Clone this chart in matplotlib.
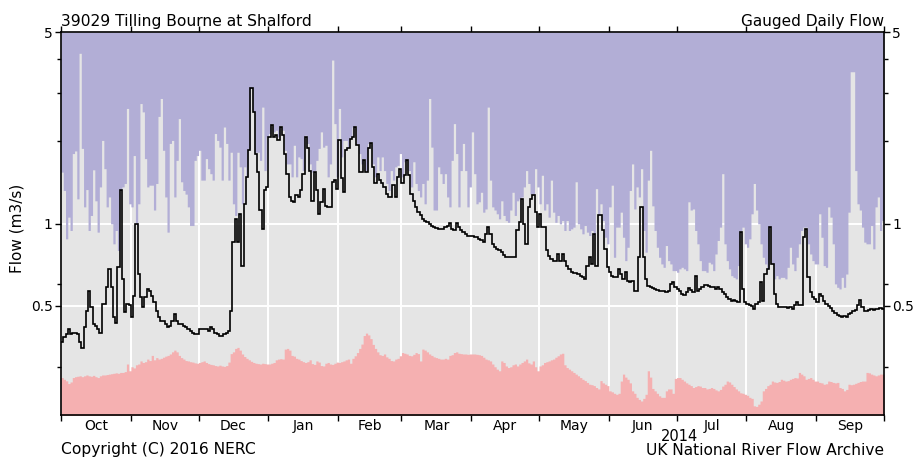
# Tilling Bourne at Shalford - gauged daily flow, water year 2013/14

import numpy as np
import pandas as pd
import matplotlib
matplotlib.use("Agg")
import matplotlib.pyplot as plt
import matplotlib.dates as mdates
from matplotlib.ticker import FixedLocator, FixedFormatter, NullFormatter

# daily flow (m3/s), 1 Oct 2013 - 30 Sep 2014
flow = [
    # Oct
    0.368, 0.384, 0.395, 0.412, 0.395, 0.397, 0.397, 0.395, 0.368, 0.351,
    0.418, 0.481, 0.569, 0.494, 0.430, 0.424, 0.412, 0.400, 0.509, 0.509,
    0.585, 0.683, 0.585, 0.455, 0.435, 0.692, 1.32, 0.628, 0.474, 0.509, 0.502,
    # Nov
    0.455, 0.545, 0.997, 0.654, 0.537, 0.494, 0.537, 0.577, 0.569, 0.545,
    0.516, 0.481, 0.455, 0.442, 0.442, 0.430, 0.418, 0.424, 0.442, 0.468,
    0.442, 0.430, 0.430, 0.424, 0.418, 0.412, 0.406, 0.400, 0.395, 0.395,
    # Dec
    0.412, 0.412, 0.412, 0.412, 0.406, 0.418, 0.412, 0.400, 0.395, 0.389,
    0.389, 0.395, 0.400, 0.406, 0.481, 0.855, 1.04, 0.855, 1.085, 0.702,
    1.18, 1.48, 1.85, 3.11, 2.555, 1.80, 1.54, 1.12, 0.956, 1.32, 1.36,
    # Jan
    2.07, 2.28, 2.07, 2.10, 2.01, 2.25, 2.10, 1.80, 1.52, 1.25,
    1.21, 1.20, 1.27, 1.25, 1.32, 1.52, 2.07, 1.88, 1.56, 1.21,
    1.54, 1.32, 1.085, 1.20, 1.34, 1.16, 1.15, 1.15, 1.42, 1.44, 1.34,
    # Feb
    2.01, 1.46, 1.30, 1.85, 1.88, 2.04, 2.07, 2.25, 1.93, 1.54,
    1.54, 1.70, 1.54, 1.88, 1.96, 1.61, 1.40, 1.52, 1.44, 1.40,
    1.36, 1.28, 1.25, 1.25, 1.38, 1.25, 1.48, 1.585,
    # Mar
    1.40, 1.50, 1.70, 1.50, 1.28, 1.21, 1.15, 1.10, 1.07, 1.04,
    1.025, 1.01, 0.997, 0.983, 0.970, 0.964, 0.951, 0.951, 0.956, 0.970,
    0.983, 1.003, 0.956, 0.943, 1.003, 0.970, 0.943, 0.930, 0.917, 0.904, 0.904,
    # Apr
    0.899, 0.896, 0.891, 0.879, 0.867, 0.855, 0.917, 0.970, 0.917, 0.843,
    0.819, 0.808, 0.797, 0.786, 0.770, 0.757, 0.753, 0.753, 0.753, 0.753,
    0.943, 1.01, 1.23, 0.997, 0.843, 1.15, 1.23, 1.27, 1.10, 0.970,
    # May
    1.085, 0.970, 0.970, 0.797, 0.764, 0.743, 0.732, 0.732, 0.774, 0.732,
    0.774, 0.732, 0.702, 0.683, 0.664, 0.658, 0.658, 0.654, 0.645, 0.636,
    0.628, 0.702, 0.753, 0.712, 0.917, 0.702, 1.07, 1.07, 0.943, 0.808, 0.692,
    # Jun
    0.664, 0.645, 0.640, 0.640, 0.683, 0.654, 0.628, 0.664, 0.619, 0.610,
    0.619, 0.569, 0.569, 0.753, 1.15, 0.753, 0.628, 0.593, 0.585, 0.581,
    0.577, 0.572, 0.569, 0.569, 0.566, 0.561, 0.569, 0.602, 0.610, 0.588,
    # Jul
    0.577, 0.569, 0.553, 0.550, 0.561, 0.581, 0.572, 0.561, 0.645, 0.569,
    0.577, 0.588, 0.596, 0.598, 0.593, 0.585, 0.585, 0.577, 0.585, 0.577,
    0.561, 0.553, 0.537, 0.530, 0.523, 0.526, 0.520, 0.516, 0.930, 0.577, 0.516,
    # Aug
    0.509, 0.506, 0.500, 0.488, 0.509, 0.516, 0.610, 0.523, 0.654, 0.683,
    0.970, 0.712, 0.553, 0.509, 0.494, 0.497, 0.494, 0.497, 0.492, 0.494,
    0.488, 0.502, 0.516, 0.502, 0.502, 0.891, 0.956, 0.636, 0.561, 0.537, 0.530,
    # Sep
    0.516, 0.553, 0.545, 0.523, 0.509, 0.499, 0.490, 0.481, 0.470, 0.465,
    0.461, 0.455, 0.461, 0.457, 0.468, 0.470, 0.478, 0.484, 0.502, 0.526,
    0.494, 0.478, 0.481, 0.484, 0.488, 0.484, 0.488, 0.486, 0.492, 0.489,
]

# maximum daily flow on record for each day
max_flow = [
    # Oct
    1.54, 1.32, 0.879, 1.055, 0.943, 1.80, 1.84, 1.23, 4.18, 1.88,
    1.15, 1.33, 0.943, 1.07, 1.57, 1.21, 0.930, 1.36, 2.01, 1.585,
    1.15, 1.25, 0.997, 0.843, 0.943, 0.797, 1.32, 1.36, 1.40, 2.63, 1.18,
    # Nov
    1.15, 1.77, 1.00, 1.18, 2.74, 2.555, 1.725, 1.36, 1.38, 1.38,
    1.12, 1.40, 2.46, 2.86, 1.85, 1.25, 0.930, 1.96, 2.01, 1.25,
    1.70, 2.415, 1.42, 1.32, 1.28, 1.15, 0.983, 0.983, 1.70, 1.77,
    # Dec
    1.85, 1.44, 1.44, 1.725, 1.585, 1.52, 1.44, 2.13, 2.01, 1.90,
    1.44, 2.25, 1.96, 1.44, 1.82, 1.18, 1.07, 1.82, 1.61, 1.18,
    1.61, 1.48, 1.88, 3.11, 2.555, 1.82, 1.82, 1.70, 2.66, 1.56, 2.07,
    # Jan
    2.13, 2.315, 2.16, 2.19, 2.07, 2.28, 2.19, 1.85, 1.65, 1.65,
    1.48, 1.93, 1.48, 1.75, 1.725, 1.56, 2.10, 1.96, 1.65, 1.54,
    1.56, 1.70, 1.88, 2.16, 1.90, 1.93, 1.48, 1.65, 3.95, 2.315, 1.48,
    # Feb
    2.63, 1.75, 2.01, 2.01, 1.90, 2.07, 2.25, 2.28, 1.96, 1.80,
    1.65, 1.725, 1.56, 1.96, 1.985, 1.65, 1.48, 1.75, 1.56, 1.75,
    1.56, 1.40, 1.32, 1.56, 1.44, 1.61, 1.63, 1.80,
    # Mar
    1.48, 1.68, 1.725, 1.56, 1.36, 1.68, 1.40, 1.32, 1.25, 1.40,
    1.18, 1.44, 2.86, 1.90, 1.12, 1.12, 1.61, 1.52, 1.40, 1.52,
    1.25, 1.15, 1.70, 2.315, 1.80, 1.15, 1.56, 1.96, 1.56, 1.15, 1.36,
    # Apr
    2.16, 1.52, 1.18, 1.20, 1.30, 1.10, 1.13, 2.66, 1.44, 1.15,
    1.12, 1.085, 1.04, 1.21, 1.07, 1.025, 1.01, 1.12, 1.30, 1.07,
    1.21, 1.23, 1.25, 1.36, 1.56, 1.40, 1.28, 1.28, 1.585, 1.36,
    # May
    1.18, 1.50, 1.12, 1.18, 1.055, 1.44, 1.10, 1.01, 1.07, 0.997,
    1.025, 0.943, 1.025, 0.943, 0.956, 0.970, 1.42, 0.997, 0.956, 0.917,
    0.983, 0.930, 0.904, 0.943, 0.917, 1.34, 1.07, 1.18, 1.025, 0.891, 0.843,
    # Jun
    1.15, 1.38, 0.753, 0.970, 0.970, 1.10, 0.891, 0.732, 0.819, 1.32,
    1.65, 1.13, 1.36, 1.25, 1.585, 0.943, 0.786, 1.44, 1.85, 1.16,
    0.943, 0.819, 0.753, 0.712, 0.692, 0.831, 0.732, 0.712, 0.673, 0.673,
    # Jul
    0.664, 0.683, 0.692, 0.683, 0.673, 1.20, 1.12, 1.13, 0.943, 0.843,
    0.732, 0.673, 0.673, 0.664, 0.722, 0.712, 0.673, 0.774, 0.867, 0.970,
    1.52, 0.843, 0.732, 0.683, 0.645, 0.636, 0.628, 0.702, 0.943, 0.970, 0.843,
    # Aug
    0.819, 0.879, 1.085, 1.40, 1.12, 0.997, 0.843, 0.753, 0.712, 0.683,
    0.970, 0.712, 0.628, 0.645, 0.628, 0.636, 0.636, 0.628, 0.692, 0.819,
    0.712, 0.673, 0.753, 0.843, 0.943, 0.970, 0.970, 0.843, 0.774, 0.732, 0.712,
    # Sep
    0.712, 1.085, 0.891, 0.702, 0.692, 1.15, 1.055, 0.843, 0.602, 0.585,
    0.577, 0.636, 0.585, 0.654, 1.10, 3.58, 3.58, 1.56, 1.18, 1.12,
    0.970, 0.855, 0.843, 0.843, 0.983, 0.808, 1.15, 1.25, 0.943, 1.025,
]

# minimum daily flow on record for each day
min_flow = [
    # Oct
    0.274, 0.270, 0.2665, 0.2605, 0.264, 0.274, 0.276, 0.277, 0.278, 0.276,
    0.278, 0.280, 0.278, 0.277, 0.279, 0.276, 0.274, 0.278, 0.280, 0.280,
    0.281, 0.282, 0.283, 0.284, 0.285, 0.284, 0.286, 0.286, 0.288, 0.307, 0.290,
    # Nov
    0.300, 0.297, 0.305, 0.307, 0.315, 0.311, 0.313, 0.320, 0.316, 0.330,
    0.318, 0.324, 0.320, 0.322, 0.325, 0.328, 0.330, 0.334, 0.340, 0.345,
    0.340, 0.330, 0.324, 0.320, 0.316, 0.315, 0.313, 0.312, 0.310, 0.309,
    # Dec
    0.311, 0.313, 0.315, 0.311, 0.308, 0.306, 0.305, 0.303, 0.302, 0.304,
    0.302, 0.301, 0.303, 0.312, 0.335, 0.340, 0.350, 0.353, 0.345, 0.334,
    0.327, 0.322, 0.318, 0.314, 0.311, 0.309, 0.308, 0.307, 0.309, 0.308, 0.307,
    # Jan
    0.307, 0.309, 0.311, 0.318, 0.320, 0.321, 0.320, 0.348, 0.350, 0.345,
    0.330, 0.328, 0.322, 0.320, 0.316, 0.313, 0.311, 0.313, 0.318, 0.308,
    0.306, 0.315, 0.312, 0.303, 0.302, 0.309, 0.311, 0.307, 0.306, 0.309, 0.312,
    # Feb
    0.311, 0.313, 0.315, 0.318, 0.320, 0.309, 0.322, 0.329, 0.338, 0.350,
    0.363, 0.390, 0.398, 0.392, 0.380, 0.362, 0.350, 0.340, 0.332, 0.330,
    0.334, 0.326, 0.322, 0.316, 0.315, 0.320, 0.322, 0.329,
    # Mar
    0.338, 0.336, 0.334, 0.330, 0.329, 0.333, 0.338, 0.335, 0.315, 0.348,
    0.345, 0.340, 0.334, 0.330, 0.326, 0.324, 0.322, 0.320, 0.320, 0.322,
    0.320, 0.330, 0.332, 0.338, 0.340, 0.336, 0.335, 0.334, 0.334, 0.333, 0.334,
    # Apr
    0.334, 0.334, 0.333, 0.332, 0.330, 0.325, 0.320, 0.318, 0.315, 0.307,
    0.300, 0.294, 0.290, 0.315, 0.311, 0.302, 0.298, 0.300, 0.305, 0.307,
    0.302, 0.307, 0.311, 0.315, 0.320, 0.310, 0.307, 0.315, 0.300, 0.290,
    # May
    0.302, 0.305, 0.311, 0.313, 0.315, 0.318, 0.320, 0.325, 0.329, 0.334,
    0.336, 0.305, 0.298, 0.294, 0.290, 0.286, 0.282, 0.278, 0.274, 0.270,
    0.267, 0.263, 0.259, 0.258, 0.256, 0.252, 0.249, 0.267, 0.262, 0.259, 0.256,
    # Jun
    0.245, 0.243, 0.240, 0.238, 0.240, 0.266, 0.282, 0.275, 0.270, 0.262,
    0.245, 0.240, 0.232, 0.228, 0.225, 0.230, 0.238, 0.290, 0.275, 0.250,
    0.245, 0.240, 0.235, 0.232, 0.232, 0.245, 0.249, 0.249, 0.240, 0.272,
    # Jul
    0.274, 0.274, 0.270, 0.266, 0.262, 0.259, 0.256, 0.252, 0.254, 0.256,
    0.255, 0.252, 0.252, 0.249, 0.250, 0.252, 0.250, 0.247, 0.245, 0.248,
    0.255, 0.259, 0.266, 0.264, 0.259, 0.254, 0.249, 0.245, 0.241, 0.240, 0.238,
    # Aug
    0.236, 0.232, 0.230, 0.216, 0.215, 0.219, 0.225, 0.245, 0.250, 0.256,
    0.259, 0.266, 0.264, 0.263, 0.265, 0.270, 0.268, 0.266, 0.267, 0.270,
    0.272, 0.274, 0.273, 0.286, 0.282, 0.278, 0.270, 0.272, 0.274, 0.270, 0.266,
    # Sep
    0.266, 0.263, 0.262, 0.259, 0.260, 0.266, 0.265, 0.263, 0.262, 0.263,
    0.252, 0.250, 0.245, 0.248, 0.259, 0.258, 0.259, 0.261, 0.263, 0.265,
    0.266, 0.266, 0.286, 0.285, 0.282, 0.280, 0.278, 0.280, 0.282, 0.282,
]

month_labels = ["Oct", "Nov", "Dec", "Jan", "Feb", "Mar",
                "Apr", "May", "Jun", "Jul", "Aug", "Sep"]
y_major = [0.5, 1, 5]
y_major_labels = ["0.5", "1", "5"]
y_minor = [0.3, 0.6, 2, 3, 4]

start = pd.Timestamp("2013-10-01")


def day_edges(n):
    return mdates.date2num(pd.date_range(start, periods=n + 1, freq="D"))


fig = plt.figure(figsize=(9.14, 4.59), dpi=100)
ax = fig.add_axes([61 / 914, 44 / 459, 823 / 914, 383 / 459])
ax.set_facecolor("#e5e5e5")
ax.set_yscale("log")
ax.set_ylim(0.2, 5)

# envelopes
e = day_edges(len(max_flow))
ax.fill_between(e, np.append(max_flow, max_flow[-1]), 5, step="post",
                color="#b2aed6", lw=0, zorder=1)
e = day_edges(len(min_flow))
ax.fill_between(e, 0.1, np.append(min_flow, min_flow[-1]), step="post",
                color="#f5b0b1", lw=0, zorder=1)

# daily flow
e = day_edges(len(flow))
ax.stairs(flow, e, baseline=None, color="black", lw=1.2, zorder=3)

month_starts = mdates.date2num(pd.date_range(start, periods=13, freq="MS"))
ax.set_xlim(month_starts[0], month_starts[-1])
mid = (month_starts[:-1] + month_starts[1:]) / 2

ax.set_xticks(month_starts)
ax.set_xticklabels([])
ax.set_xticks(mid, minor=True)
ax.set_xticklabels(month_labels, minor=True)
ax.tick_params(axis="x", which="major", direction="out", length=4,
               width=1, top=True)
ax.tick_params(axis="x", which="minor", length=0, pad=3, labelsize=10)

ax.yaxis.set_major_locator(FixedLocator(y_major))
ax.yaxis.set_major_formatter(FixedFormatter(y_major_labels))
ax.yaxis.set_minor_locator(FixedLocator(y_minor))
ax.yaxis.set_minor_formatter(NullFormatter())
ax.tick_params(axis="y", which="both", direction="out", right=True,
               labelright=True, labelsize=10, pad=2)
ax.tick_params(axis="y", which="major", length=4, width=1)
ax.tick_params(axis="y", which="minor", length=3, width=1)

ax.set_axisbelow(True)
ax.grid(True, which="major", color="white", lw=1.4)

for s in ax.spines.values():
    s.set_linewidth(1.2)
    s.set_color("black")
    s.set_zorder(4)

fig.text(61 / 914, 1 - 26 / 459, "39029 Tilling Bourne at Shalford",
         fontsize=11.2, ha="left", va="baseline")
fig.text(884 / 914, 1 - 26 / 459, "Gauged Daily Flow",
         fontsize=11, ha="right", va="baseline")
fig.text(17 / 914, 1 - 228 / 459, "Flow (m3/s)", fontsize=11,
         rotation=90, ha="center", va="center")
fig.text(679 / 914, 1 - 441 / 459, "2014", fontsize=10.5,
         ha="center", va="baseline")
fig.text(61 / 914, 1 - 454 / 459, "Copyright (C) 2016 NERC",
         fontsize=11.2, ha="left", va="baseline")
fig.text(884 / 914, 1 - 455 / 459, "UK National River Flow Archive",
         fontsize=11.1, ha="right", va="baseline")

fig.savefig("out.png", dpi=100)
